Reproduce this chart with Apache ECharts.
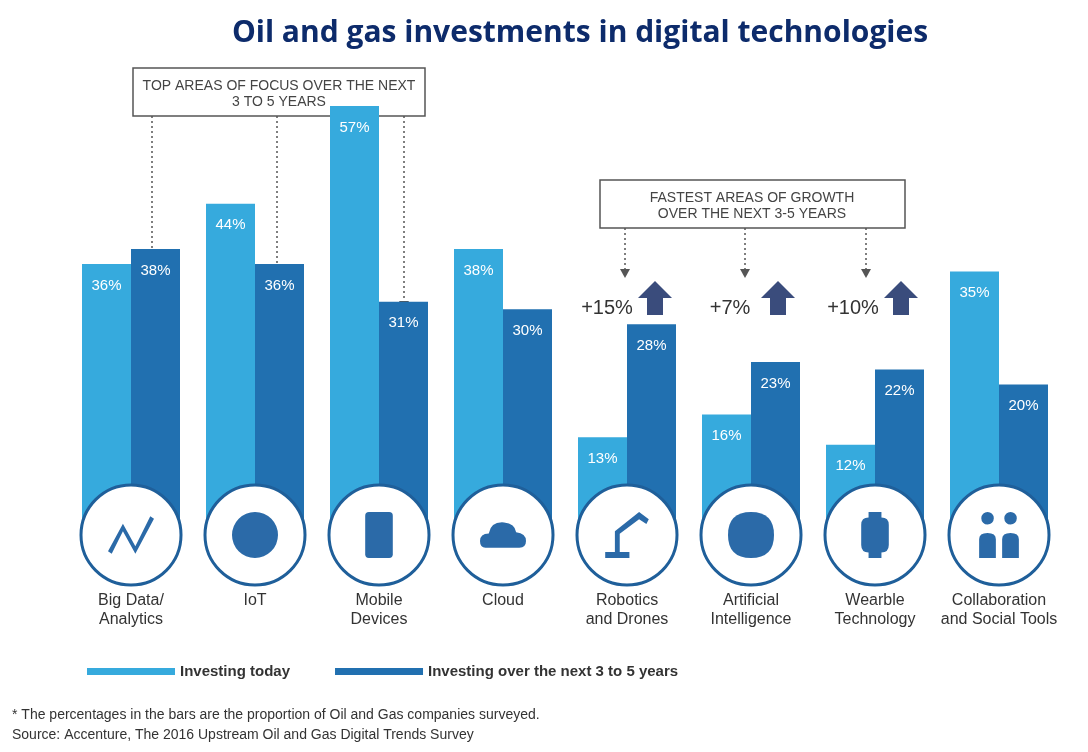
<!DOCTYPE html>
<html><head><meta charset="utf-8">
<script src="https://cdn.jsdelivr.net/npm/echarts@6/dist/echarts.min.js"></script>
<style>html,body{margin:0;background:#fff}#c{width:1088px;height:752px}</style>
</head><body><div id="c"></div>
<script>
var categories = ['Big Data/\nAnalytics','IoT','Mobile\nDevices','Cloud','Robotics\nand Drones','Artificial\nIntelligence','Wearble\nTechnology','Collaboration\nand Social Tools'];
var today = [36,44,57,38,13,16,12,35];
var future = [38,36,31,30,28,23,22,20];
var growth = ['','','','','+15%','+7%','+10%',''];

var LIGHT = '#36aadd', DARK = '#2170b0', ICON = '#2b6aa8';
var icons = [
  'path://M0,30 L12,8 L22,26 L34,2 L37,4 L22,32 L12,14 L3,32 Z',
  'path://M15,5 A10,10 0 1,1 14.9,5 Z',
  'path://M4,0 L26,0 Q30,0 30,4 L30,46 Q30,50 26,50 L4,50 Q0,50 0,46 L0,4 Q0,0 4,0 Z',
  'path://M5,30 Q0,30 0,24 Q0,17 8,17 Q10,6 22,7 Q32,8 33,16 Q42,17 42,24 Q42,30 36,30 Z',
  'path://M0,40 L20,40 L20,35 L12,35 L12,20 L28,8 L34,12 L36,8 L28,2 L8,18 L8,35 L0,35 Z',
  'path://M20,0 Q40,0 40,20 Q40,40 20,40 Q0,40 0,20 Q0,0 20,0 Z',
  'path://M8,0 L22,0 L22,6 Q30,6 30,14 L30,36 Q30,44 22,44 L22,50 L8,50 L8,44 Q0,44 0,36 L0,14 Q0,6 8,6 Z',
  'path://M8,12 A6,6 0 1,1 8.1,12 Z M30,12 A6,6 0 1,1 30.1,12 Z M0,44 L0,26 Q0,20 8,20 Q16,20 16,26 L16,44 Z M22,44 L22,26 Q22,20 30,20 Q38,20 38,26 L38,44 Z'
];

var chart = echarts.init(document.getElementById('c'));
var FONT = 'Liberation Sans, Arial, sans-serif';

function dotted(x, y1, y2) {
  return [
    {type:'line', shape:{x1:x,y1:y1,x2:x,y2:y2-8}, style:{stroke:'#555',lineWidth:1.5,lineDash:[2,3]}},
    {type:'polygon', shape:{points:[[x-5,y2-9],[x+5,y2-9],[x,y2]]}, style:{fill:'#555'}}
  ];
}
function upArrow(x, y) {
  return {type:'polygon', shape:{points:[[x-17,y+15],[x,y-2],[x+17,y+15],[x+8,y+15],[x+8,y+32],[x-8,y+32],[x-8,y+15]]}, style:{fill:'#3a4c7c'}};
}
var graphics = [
  {type:'text', x:580, y:18, style:{text:'Oil and gas investments in digital technologies', align:'center', font:'bold 30px "Open Sans", sans-serif', fill:'#0d2b6b'}},
  {type:'rect', shape:{x:133,y:68,width:292,height:48}, style:{fill:'#fff',stroke:'#555',lineWidth:1.5}},
  {type:'text', x:279, y:78, style:{text:'TOP AREAS OF FOCUS OVER THE NEXT\n3 TO 5 YEARS', align:'center', font:'14px '+FONT, fill:'#444', lineHeight:16}},
  {type:'rect', shape:{x:600,y:180,width:305,height:48}, style:{fill:'#fff',stroke:'#555',lineWidth:1.5}},
  {type:'text', x:752, y:190, style:{text:'FASTEST AREAS OF GROWTH\nOVER THE NEXT 3-5 YEARS', align:'center', font:'14px '+FONT, fill:'#444', lineHeight:16}},
  {type:'text', left:12, top:705, style:{text:'* The percentages in the bars are the proportion of Oil and Gas companies surveyed.\nSource: Accenture, The 2016 Upstream Oil and Gas Digital Trends Survey', font:'14px '+FONT, fill:'#333', lineHeight:20}}
];
graphics = graphics.concat(dotted(152,116,260), dotted(277,116,277), dotted(404,116,310),
  dotted(625,228,278), dotted(745,228,278), dotted(866,228,278));
var gx = [607, 730, 853];
[4,5,6].forEach(function(i, k){
  graphics.push({type:'text', x:gx[k], y:298, style:{text:growth[i], align:'center', font:'20px '+FONT, fill:'#333'}});
  graphics.push(upArrow(gx[k]+48, 283));
});

chart.setOption({
  animation:false,
  grid:{left:69, right:27, top:106, bottom:217},
  legend:{left:82, top:659, itemWidth:88, itemHeight:7, icon:'rect', itemGap:45,
    textStyle:{fontFamily:FONT, fontWeight:'bold', fontSize:15, color:'#333'},
    data:['Investing today','Investing over the next 3 to 5 years']},
  xAxis:{type:'category', data:categories, axisLine:{show:false}, axisTick:{show:false},
    axisLabel:{margin:56, fontFamily:FONT, fontSize:16, color:'#333', lineHeight:19, interval:0}},
  yAxis:{type:'value', min:0, max:57, show:false},
  graphic:graphics,
  series:[
    {name:'Investing today', type:'bar', data:today, barWidth:49, barGap:'0%', itemStyle:{color:LIGHT},
      label:{show:true, position:'insideTop', distance:14, formatter:'{c}%', color:'#fff', fontSize:15, fontFamily:FONT}},
    {name:'Investing over the next 3 to 5 years', type:'bar', data:future, barWidth:49, itemStyle:{color:DARK},
      label:{show:true, position:'insideTop', distance:14, formatter:'{c}%', color:'#fff', fontSize:15, fontFamily:FONT}},
    {type:'scatter', data:categories.map(function(c){return [c,0];}), symbolSize:100, z:5,
      itemStyle:{color:'#fff', opacity:1, borderColor:'#1f5f9a', borderWidth:3}, silent:true},
    {type:'scatter', z:6, silent:true,
      data:categories.map(function(c,i){return {value:[c,0], symbol:icons[i]};}),
      symbolSize:46, symbolKeepAspect:true, itemStyle:{color:ICON, opacity:1}}
  ]
});
</script></body></html>
